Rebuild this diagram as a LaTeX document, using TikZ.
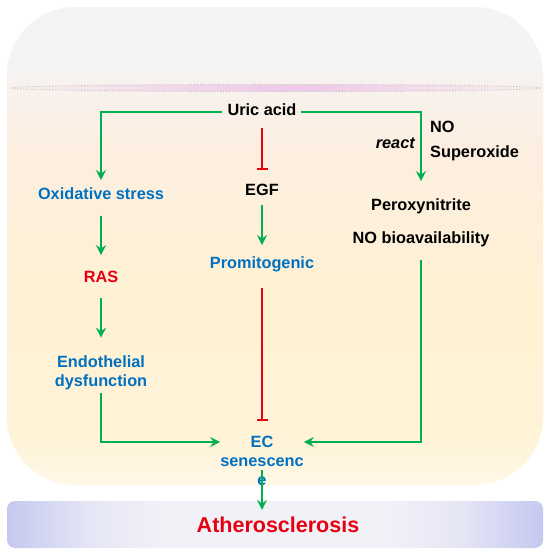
\documentclass[tikz,border=0pt]{standalone}
\usepackage{fontspec}
\setmainfont{Liberation Sans}
\usetikzlibrary{arrows.meta}
\definecolor{ublue}{RGB}{0,112,192}
\definecolor{ured}{RGB}{230,0,18}
\definecolor{ugreen}{RGB}{0,176,80}
\definecolor{bgA}{HTML}{F3F4F6}
\definecolor{bgD}{HTML}{F8F1EC}
\definecolor{bgE}{HTML}{FCEFE0}
\definecolor{bgF}{HTML}{FFF1D3}
\definecolor{bgG}{HTML}{FFF3D8}
\definecolor{bgH}{HTML}{FFF8E8}
\definecolor{lav}{HTML}{C6C8F0}
\definecolor{lavm}{HTML}{E6E7F5}
\definecolor{barm}{HTML}{F1F2F7}
\definecolor{pinkc}{HTML}{EEC8EA}
\pgfdeclareverticalshading{bgshade}{100bp}{color(0bp)=(bgH); color(25bp)=(bgH); color(29.7bp)=(bgG); color(44bp)=(bgF); color(60bp)=(bgE); color(66bp)=(bgD); color(70.5bp)=(bgA); color(75bp)=(bgA); color(100bp)=(bgA)}
\pgfdeclarehorizontalshading{barshade}{100bp}{color(0bp)=(lav); color(25bp)=(lav); color(33bp)=(lavm); color(40bp)=(barm); color(60bp)=(barm); color(67bp)=(lavm); color(75bp)=(lav); color(100bp)=(lav)}
\pgfdeclarehorizontalshading{ellshade}{100bp}{color(0bp)=(bgD); color(25bp)=(bgD); color(40bp)=(pinkc!60!bgD); color(52bp)=(pinkc); color(62bp)=(pinkc!60!bgD); color(75bp)=(bgD); color(100bp)=(bgD)}
\tikzset{
  txt/.style={inner sep=0pt, font=\fontsize{16.3}{19}\selectfont\bfseries, text height=11.5pt, text depth=3pt},
  mtxt/.style={inner sep=0pt, font=\fontsize{16.3}{19}\selectfont\bfseries, align=center},
  garrow/.style={draw=ugreen, line width=2pt, -{Stealth[length=10pt,width=10pt,inset=3.5pt]}},
  rinhib/.style={draw=ured, line width=1.6pt, -{Bar[width=11pt,line width=1.6pt]}}
}
\begin{document}
\begin{tikzpicture}[x=1pt,y=-1pt]
\useasboundingbox (0,0) rectangle (550,555);
% backgrounds
\path[shading=bgshade, rounded corners=68pt] (7,7) rectangle (543,485);
\path[shading=ellshade, draw=gray!55, dotted, line width=0.9pt] (276,88) ellipse [x radius=264, y radius=3.5];
\path[shading=barshade, rounded corners=8pt] (7,501) rectangle (543,548);
% nodes
\node[txt, text=black] (uric) at (262,111.5) {Uric acid};
\node[txt, text=ublue] (ox) at (101,195.5) {Oxidative stress};
\node[txt, text=ured] (ras) at (101,278.5) {RAS};
\node[mtxt, text=ublue] (endo) at (101,373) {Endothelial\\dysfunction};
\node[txt, text=black] (egf) at (262,191.5) {EGF};
\node[txt, text=ublue] (promi) at (262,264.5) {Promitogenic};
\node[txt, text=black, anchor=west] (no) at (430,128.5) {NO};
\node[txt, text=black, anchor=west] (sup) at (430,153.5) {Superoxide};
\node[txt, text=black, anchor=east, font=\fontsize{16.3}{19}\selectfont\bfseries\itshape] (react) at (415,144.5) {react};
\node[txt, text=black] (perox) at (421,206.5) {Peroxynitrite};
\node[txt, text=black] (nobio) at (421,239.5) {NO bioavailability};
\node[mtxt, text=ublue] (ec) at (262,461) {EC\\senescenc\\e};
\node[inner sep=0pt, text=ured, font=\fontsize{21.5}{24}\selectfont\bfseries] (ath) at (278,525) {Atherosclerosis};
\coordinate (ecout) at ([yshift=-9pt]ec.center);
% connectors
\draw[garrow, shorten <=5pt, shorten >=8pt] (uric.west) -| (ox.north);
\draw[garrow, shorten <=4pt, shorten >=18pt] (uric.east) -| (perox.north);
\draw[rinhib, shorten <=9pt, shorten >=14pt] (uric.south) -- (egf.north);
\draw[garrow, shorten <=6pt, shorten >=12pt] (egf.south) -- (promi.north);
\draw[rinhib, shorten <=16pt, shorten >=15pt] (promi.south) -- (ec.north);
\draw[garrow, shorten <=13pt, shorten >=16pt] (ox.south) -- (ras.north);
\draw[garrow, shorten <=12pt, shorten >=18pt] (ras.south) -- (endo.north);
\draw[garrow, shorten <=3pt] (endo.south) |- ([yshift=19pt]ec.west);
\draw[garrow, shorten <=13pt] (nobio.south) |- ([yshift=19pt]ec.east);
\draw[garrow, shorten >=7pt] (ecout) -- (ecout |- ath.north);
\end{tikzpicture}
\end{document}
